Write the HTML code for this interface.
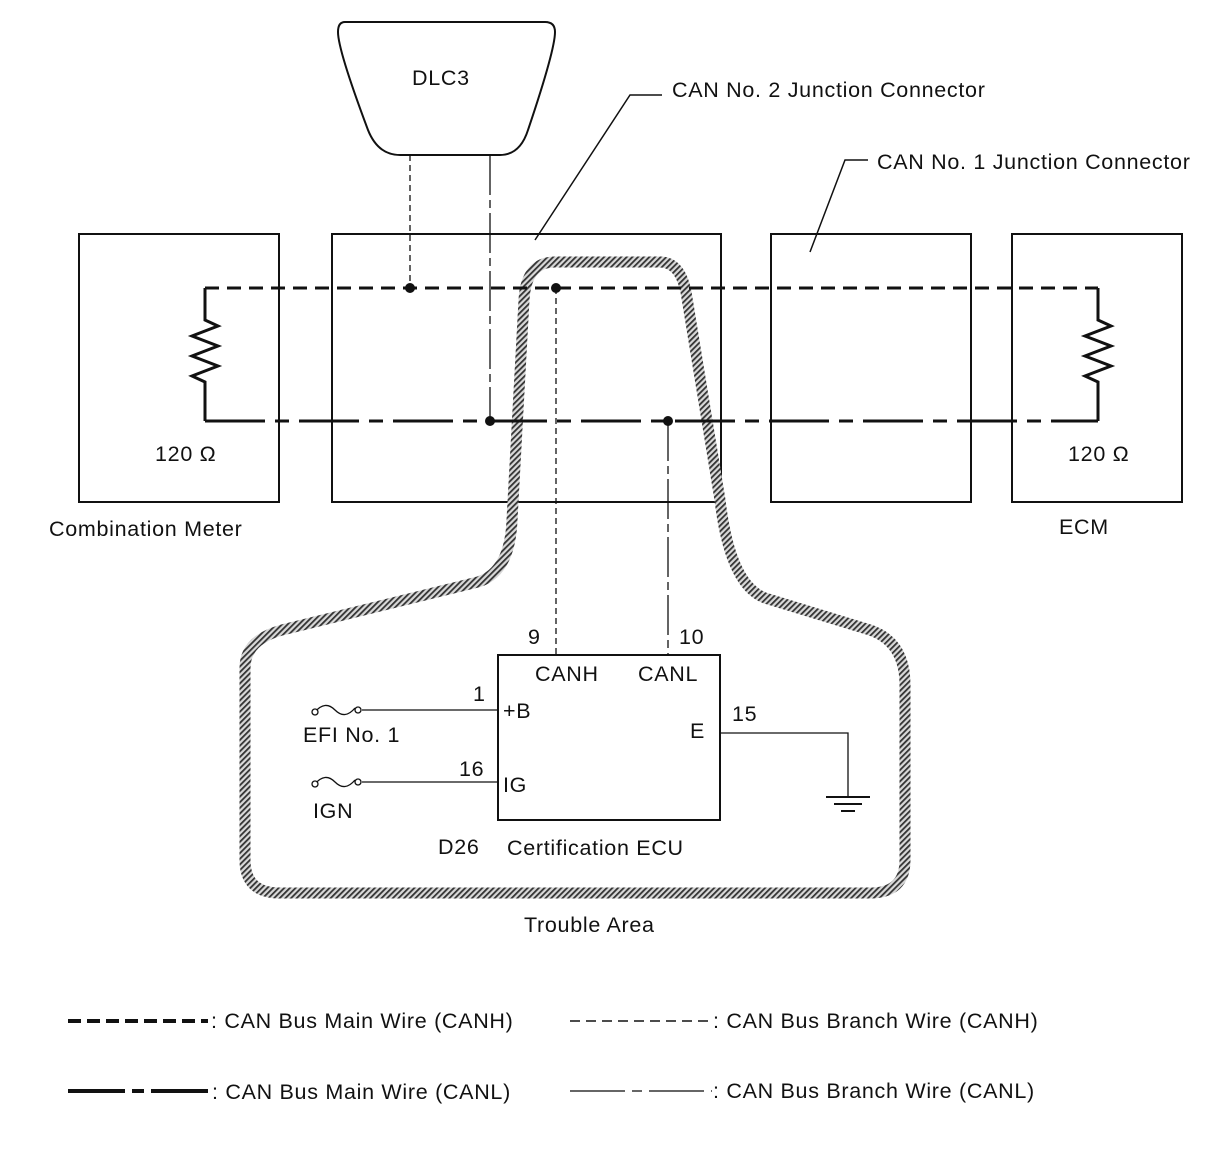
<!DOCTYPE html>
<html><head><meta charset="utf-8"><style>
html,body{margin:0;padding:0;background:#fff}
svg{display:block}
text{font-family:"Liberation Sans",Arial,sans-serif;font-size:21.5px;letter-spacing:0.7px;fill:#111}
</style></head><body>
<svg width="1216" height="1156" viewBox="0 0 1216 1156" xmlns="http://www.w3.org/2000/svg">
<defs>
<pattern id="h" width="4" height="4" patternUnits="userSpaceOnUse" patternTransform="rotate(45)">
<rect width="4" height="4" fill="#d8d8d8"/><rect width="1.8" height="4" fill="#333"/>
</pattern>
</defs>
<g fill="none" stroke="#111" stroke-width="2">
<rect x="79" y="234" width="200" height="268"/>
<rect x="332" y="234" width="389" height="268"/>
<rect x="771" y="234" width="200" height="268"/>
<rect x="1012" y="234" width="170" height="268"/>
<rect x="498" y="655" width="222" height="165"/>
<path d="M345 22 Q338 22 338 32 Q338 50 368 130 Q378 155 400 155 L500 155 Q520 155 528 130 Q555 50 555 32 Q555 22 545 22 Z"/>
<path d="M535 240 L630 95 L662 95" stroke-width="1.5"/>
<path d="M810 252 L845 160 L868 160" stroke-width="1.5"/>
</g>
<path d="M524 300 Q526 262 555 262 L660 262 Q680 262 686 292 L720 500 Q730 585 765 598 L870 630 Q905 642 905 685 L905 860 Q905 893 870 893 L280 893 Q245 893 245 860 L245 668 Q245 640 282 630 L478 582 Q510 572 512 520 Z" fill="none" stroke="url(#h)" stroke-width="11"/>
<g fill="none" stroke="#111" stroke-width="3">
<path d="M205 288 L205 320 L218 326 L192 336 L218 346 L192 356 L218 366 L192 376 L205 382 L205 421"/>
<path d="M1098 288 L1098 320 L1111 326 L1085 336 L1111 346 L1085 356 L1111 366 L1085 376 L1098 382 L1098 421"/>
<path d="M205 288 L1098 288" stroke-dasharray="14 8"/>
<path d="M205 421 L1098 421" stroke-dasharray="60 10 14 10"/>
</g>
<g fill="none" stroke="#111" stroke-width="1.3">
<path d="M410 155 L410 288" stroke-dasharray="6 4"/>
<path d="M490 155 L490 421" stroke-dasharray="40 5 8 5"/>
<path d="M556 288 L556 655" stroke-dasharray="6 4"/>
<path d="M668 421 L668 655" stroke-dasharray="40 5 8 5"/>
<path d="M362 710 L498 710 M362 782 L498 782"/>
<path d="M720 733 L848 733 L848 797"/>
<path d="M826 797 L870 797 M834 804 L862 804 M841 811 L855 811" stroke-width="2"/>
<path d="M315 712 Q325 700 335 710 Q345 720 355 708" />
<path d="M315 784 Q325 772 335 782 Q345 792 355 780" />
<circle cx="315" cy="712" r="3" fill="#fff"/><circle cx="358" cy="710" r="3" fill="#fff"/>
<circle cx="315" cy="784" r="3" fill="#fff"/><circle cx="358" cy="782" r="3" fill="#fff"/>
</g>
<g fill="#111"><circle cx="410" cy="288" r="5"/><circle cx="556" cy="288" r="5"/><circle cx="490" cy="421" r="5"/><circle cx="668" cy="421" r="5"/></g>
<g fill="none" stroke="#111">
<path d="M68 1021 L208 1021" stroke-width="4" stroke-dasharray="13 6"/>
<path d="M68 1091 L210 1091" stroke-width="4" stroke-dasharray="57 7 12 7"/>
<path d="M570 1021 L712 1021" stroke-width="1.5" stroke-dasharray="10 6"/>
<path d="M570 1091 L712 1091" stroke="#666" stroke-width="2" stroke-dasharray="55 7 10 7"/>
</g>
<text x="412" y="85">DLC3</text>
<text x="672" y="97">CAN No. 2 Junction Connector</text>
<text x="877" y="169">CAN No. 1 Junction Connector</text>
<text x="155" y="461">120 Ω</text>
<text x="1068" y="461">120 Ω</text>
<text x="49" y="536">Combination Meter</text>
<text x="1059" y="534">ECM</text>
<text x="528" y="644">9</text>
<text x="679" y="644">10</text>
<text x="535" y="681">CANH</text>
<text x="638" y="681">CANL</text>
<text x="473" y="701">1</text>
<text x="503" y="718">+B</text>
<text x="303" y="742">EFI No. 1</text>
<text x="732" y="721">15</text>
<text x="690" y="738">E</text>
<text x="459" y="776">16</text>
<text x="503" y="792">IG</text>
<text x="313" y="818">IGN</text>
<text x="438" y="854">D26</text>
<text x="507" y="855">Certification ECU</text>
<text x="524" y="932">Trouble Area</text>
<text x="211" y="1028">: CAN Bus Main Wire (CANH)</text>
<text x="713" y="1028">: CAN Bus Branch Wire (CANH)</text>
<text x="212" y="1099">: CAN Bus Main Wire (CANL)</text>
<text x="713" y="1098">: CAN Bus Branch Wire (CANL)</text>
</svg>
</body></html>
